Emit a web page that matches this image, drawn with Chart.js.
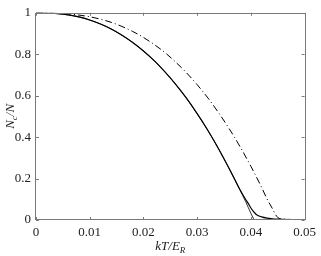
<!DOCTYPE html>
<html>
<head>
<meta charset="utf-8">
<script src="https://cdn.jsdelivr.net/npm/chart.js@4.4.1/dist/chart.umd.min.js"></script>
<style>
  html, body { margin: 0; padding: 0; background: #fff; }
  #wrap { width: 321px; height: 256px; }
</style>
</head>
<body>
<div id="wrap"><canvas id="chart"></canvas></div>
<script>
// ============ DATA ============
const xTicks = [0, 0.01, 0.02, 0.03, 0.04, 0.05];
const yTicks = [0, 0.2, 0.4, 0.6, 0.8, 1];

// solid curve with the smooth tail above Tc
const smoothT = [0, 0.002, 0.004, 0.006, 0.008, 0.010, 0.012, 0.014, 0.016, 0.018, 0.020, 0.022, 0.024, 0.026, 0.028, 0.030, 0.032, 0.034, 0.036, 0.037, 0.038, 0.039, 0.0395, 0.040, 0.0405, 0.041, 0.042, 0.043, 0.044, 0.045, 0.046, 0.048, 0.050];
const smoothN = [1, 0.999, 0.996, 0.990, 0.980, 0.965, 0.946, 0.922, 0.892, 0.857, 0.816, 0.769, 0.715, 0.655, 0.588, 0.513, 0.432, 0.343, 0.246, 0.195, 0.145, 0.100, 0.080, 0.058, 0.040, 0.027, 0.015, 0.009, 0.006, 0.0045, 0.0035, 0.002, 0.0015];

// solid curve that drops straight to zero
const sharpT = [0, 0.002, 0.004, 0.006, 0.008, 0.010, 0.012, 0.014, 0.016, 0.018, 0.020, 0.022, 0.024, 0.026, 0.028, 0.030, 0.032, 0.034, 0.036, 0.037, 0.038, 0.039, 0.040, 0.0406];
const sharpN = [1, 0.999, 0.996, 0.990, 0.980, 0.965, 0.946, 0.922, 0.892, 0.857, 0.816, 0.769, 0.715, 0.655, 0.588, 0.513, 0.432, 0.343, 0.246, 0.195, 0.143, 0.090, 0.032, 0];

// dash-dot curve
const dashT = [0, 0.002, 0.004, 0.006, 0.008, 0.010, 0.012, 0.014, 0.016, 0.018, 0.020, 0.022, 0.024, 0.026, 0.028, 0.030, 0.032, 0.034, 0.036, 0.038, 0.040, 0.042, 0.043, 0.044, 0.0445, 0.045, 0.0455, 0.046, 0.047, 0.048, 0.050];
const dashN = [1, 1, 0.998, 0.995, 0.989, 0.981, 0.969, 0.954, 0.934, 0.910, 0.881, 0.847, 0.808, 0.762, 0.711, 0.653, 0.589, 0.517, 0.439, 0.353, 0.259, 0.157, 0.102, 0.055, 0.030, 0.012, 0.006, 0.004, 0.003, 0.002, 0.0015];

const toPoints = (xs, ys) => xs.map((x, i) => ({ x: x, y: ys[i] }));

// ============ AXIS COLOURS / FONTS ============
const AXIS_COLOR = '#7a7a7a';
const SERIF = '"Liberation Serif", "DejaVu Serif", serif';

// ============ FRAME, INWARD TICKS AND AXIS TITLES ============
const framePlugin = {
    id: 'frame',
    afterDraw(chart) {
        const ctx = chart.ctx;
        const area = chart.chartArea;
        const xs = chart.scales.x;
        const ys = chart.scales.y;
        const len = 3;

        ctx.save();
        ctx.strokeStyle = AXIS_COLOR;
        ctx.lineWidth = 1;
        ctx.strokeRect(Math.round(area.left) - 0.5, Math.round(area.top) + 0.5,
            Math.round(area.right - area.left) + 1, Math.round(area.bottom - area.top) - 1);

        ctx.beginPath();
        xTicks.forEach(v => {
            const px = Math.round(xs.getPixelForValue(v)) + 0.5;
            ctx.moveTo(px, area.bottom);
            ctx.lineTo(px, area.bottom - len);
            ctx.moveTo(px, area.top);
            ctx.lineTo(px, area.top + len);
        });
        yTicks.forEach(v => {
            const py = Math.round(ys.getPixelForValue(v)) + 0.5;
            ctx.moveTo(area.left, py);
            ctx.lineTo(area.left + len, py);
            ctx.moveTo(area.right, py);
            ctx.lineTo(area.right - len, py);
        });
        ctx.stroke();

        // x title: kT/E_R
        ctx.fillStyle = '#222';
        ctx.textBaseline = 'alphabetic';
        const big = 'italic 13px ' + SERIF;
        const small = 'italic 9px ' + SERIF;
        ctx.font = big;
        const mainX = 'kT/E';
        const w1 = ctx.measureText(mainX).width;
        ctx.font = small;
        const w2 = ctx.measureText('R').width;
        const cx = (area.left + area.right) / 2;
        let sx = cx - (w1 + w2) / 2;
        ctx.font = big;
        ctx.textAlign = 'left';
        ctx.fillText(mainX, sx, 250);
        ctx.font = small;
        ctx.fillText('R', sx + w1, 253);

        // y title: N_c/N, rotated
        ctx.save();
        ctx.translate(14, (area.top + area.bottom) / 2);
        ctx.rotate(-Math.PI / 2);
        ctx.font = big;
        const a = ctx.measureText('N').width;
        ctx.font = small;
        const b = ctx.measureText('c').width;
        ctx.font = big;
        const c = ctx.measureText('/N').width;
        let ty = -(a + b + c) / 2;
        ctx.fillText('N', ty, 0);
        ctx.font = small;
        ctx.fillText('c', ty + a, 3);
        ctx.font = big;
        ctx.fillText('/N', ty + a + b, 0);
        ctx.restore();

        ctx.restore();
    }
};

// ============ CHART ============
const canvas = document.getElementById('chart');
new Chart(canvas.getContext('2d'), {
    type: 'scatter',
    data: {
        datasets: [
            {
                label: 'dash-dot',
                data: toPoints(dashT, dashN),
                showLine: true,
                borderColor: '#000',
                borderWidth: 1,
                borderDash: [7, 3, 1, 3],
                pointRadius: 0,
                cubicInterpolationMode: 'monotone'
            },
            {
                label: 'smooth',
                data: toPoints(smoothT, smoothN),
                showLine: true,
                borderColor: '#000',
                borderWidth: 1.2,
                pointRadius: 0,
                cubicInterpolationMode: 'monotone'
            },
            {
                label: 'sharp',
                data: toPoints(sharpT, sharpN),
                showLine: true,
                borderColor: '#000',
                borderWidth: 0.8,
                pointRadius: 0,
                cubicInterpolationMode: 'monotone'
            }
        ]
    },
    options: {
        responsive: true,
        maintainAspectRatio: false,
        animation: false,
        layout: { padding: { top: 12, right: 16, left: 0, bottom: 0 } },
        plugins: {
            legend: { display: false },
            tooltip: { enabled: false }
        },
        scales: {
            x: {
                type: 'linear',
                min: 0,
                max: 0.05,
                afterBuildTicks: s => { s.ticks = xTicks.map(v => ({ value: v })); },
                afterFit: s => { s.height = 36; },
                grid: { display: false, drawTicks: false },
                border: { display: false },
                ticks: {
                    padding: 5,
                    color: '#222',
                    font: { family: SERIF, size: 13 },
                    maxRotation: 0,
                    callback: v => String(+v.toFixed(2))
                }
            },
            y: {
                type: 'linear',
                min: 0,
                max: 1,
                afterBuildTicks: s => { s.ticks = yTicks.map(v => ({ value: v })); },
                afterFit: s => { s.width = 36; },
                grid: { display: false, drawTicks: false },
                border: { display: false },
                ticks: {
                    padding: 5,
                    color: '#222',
                    font: { family: SERIF, size: 13 },
                    callback: v => String(+v.toFixed(1))
                }
            }
        }
    },
    plugins: [framePlugin]
});
</script>
</body>
</html>
